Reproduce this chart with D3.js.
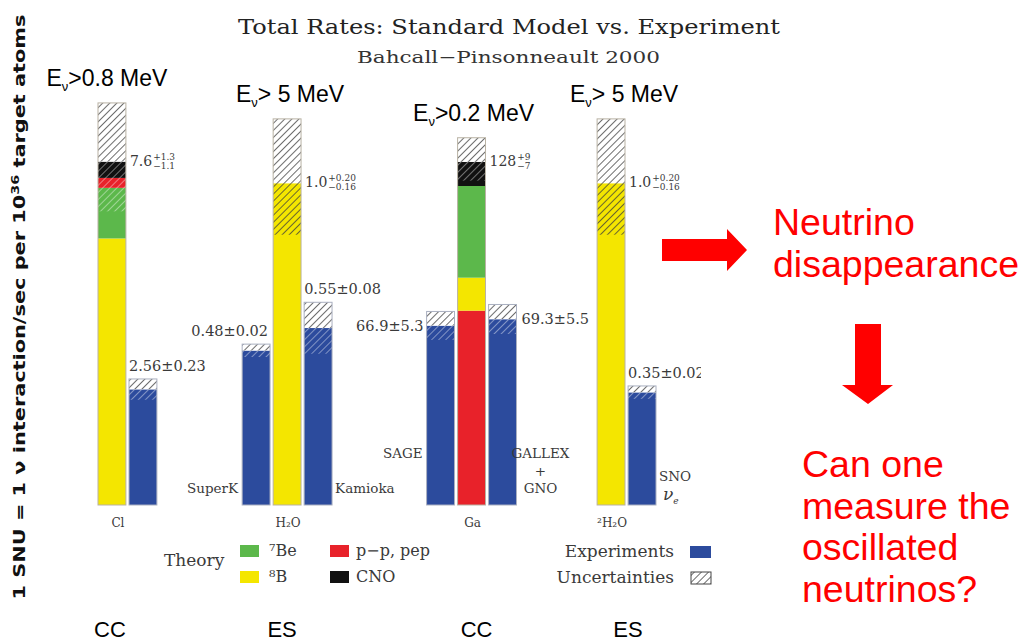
<!DOCTYPE html>
<html>
<head>
<meta charset="utf-8">
<script src="https://cdn.jsdelivr.net/npm/d3@7"></script>
<style>
  body { margin: 0; background: #fff; }
  svg { display: block; }
  .serif { font-family: "DejaVu Serif", serif; fill: #3a3a3a; }
  .sans { font-family: "Liberation Sans", Arial, sans-serif; }
</style>
</head>
<body>
<div id="chart"></div>
<script>
// groups (one per detector target)
const groups = ['Cl', 'H2O', 'Ga', '2H2O'];
const groupLabels = ['Cl', 'H₂O', 'Ga', '²H₂O'];
const reactionType = ['CC', 'ES', 'CC', 'ES'];
const thresholdLabel = ['>0.8 MeV', '> 5 MeV', '>0.2 MeV', '> 5 MeV'];
const groupDomainMax = [9.85, 1.383, 166.0, 1.383];
const groupBars = [2, 3, 3, 2];
const theorySlot = [0, 1, 1, 0];

// theory (BP2000), per group, by source
const theoryPP = [0.22, 0, 72.5, 0];
const theoryB8 = [5.9, 1.0, 12.3, 1.0];
const theoryBe7 = [1.12, 0, 34.2, 0];
const theoryCNO = [0.36, 0, 9.0, 0];
const stackOrder = [['B8', 'Be7', 'pp', 'CNO'], ['B8'], ['pp', 'B8', 'Be7', 'CNO'], ['B8']];
const theoryTotal = [7.6, 1.0, 128, 1.0];
const theoryErrUp = [1.3, 0.20, 9, 0.20];
const theoryErrDn = [1.1, 0.16, 7, 0.16];
const theoryText = ['7.6', '1.0', '128', '1.0'];
const theoryUpText = ['+1.3', '+0.20', '+9', '+0.20'];
const theoryDnText = ['−1.1', '−0.16', '−7', '−0.16'];

// experiments
const expGroup = [0, 1, 1, 2, 2, 3];
const expSlot = [1, 0, 2, 0, 2, 1];
const expValue = [2.56, 0.48, 0.55, 66.9, 69.3, 0.35];
const expErr = [0.23, 0.02, 0.08, 5.3, 5.5, 0.02];
const expText = ['2.56±0.23', '0.48±0.02', '0.55±0.08', '66.9±5.3', '69.3±5.5', '0.35±0.02'];
const expLabelAt = ['top', 'top', 'top', 'side', 'side', 'top'];
const expName = [[], ['SuperK'], ['Kamioka'], ['SAGE'], ['GALLEX', '+', 'GNO'], ['SNO', 'νe']];

// legend
const sourceKeys = ['Be7', 'B8', 'pp', 'CNO'];
const sourceLegend = ['⁷Be', '⁸B', 'p−p, pep', 'CNO'];

const colors = { B8: '#f4e600', Be7: '#5cb84b', pp: '#e8222a', CNO: '#111111', exp: '#2c4b9d' };
const theoryValues = { pp: theoryPP, B8: theoryB8, Be7: theoryBe7, CNO: theoryCNO };

const W = 1024, H = 641;
const baseY = 505;

// layout tweaks (slide text was placed by hand)
const groupGap = [2.65, 2.95, 2.5];
const thresholdNudge = [-5, 3, 2, 13];
const captionNudge = [-2, -5, 5, 17];

const svg = d3.select('#chart').append('svg')
  .attr('width', W).attr('height', H);

const defs = svg.append('defs');
function hatch(id, bg, line){
  const p = defs.append('pattern')
    .attr('id', id)
    .attr('patternUnits', 'userSpaceOnUse')
    .attr('width', 5).attr('height', 5)
    .attr('patternTransform', 'rotate(45)');
  if(bg) p.append('rect').attr('width', 5).attr('height', 5).attr('fill', bg);
  p.append('line')
    .attr('x1', 0).attr('y1', 0).attr('x2', 0).attr('y2', 5)
    .attr('stroke', line).attr('stroke-width', 1.5);
}
hatch('hatchDark', null, '#3c3c3c');
hatch('hatchLight', null, 'rgba(255,255,255,0.55)');
hatch('hatchLegend', '#fff', '#3c3c3c');

defs.append('clipPath').attr('id', 'figClip')
  .append('rect').attr('x', 0).attr('y', 0).attr('width', 701).attr('height', 545);

// x layout: slots of equal width, a gap between groups
const groupStart = [];
let acc = 0;
groupBars.forEach((n, i) => {
  groupStart.push(acc);
  acc += n + (i < groupGap.length ? groupGap[i] : 0);
});
const totalSlots = acc;
const x = d3.scaleLinear().domain([0, totalSlots]).range([98, 98 + totalSlots * 31]);
const barW = x(0.9) - x(0);

const yScales = groupDomainMax.map(m => d3.scaleLinear().domain([0, m]).range([baseY, 60]));

const fig = svg.append('g').attr('clip-path', 'url(#figClip)');

function rectV(sel, xl, y, lo, hi, fill){
  return sel.append('rect')
    .attr('x', xl).attr('width', barW)
    .attr('y', y(hi)).attr('height', y(lo) - y(hi))
    .attr('fill', fill);
}
function lightFor(c){ return (c === colors.B8) ? 'url(#hatchDark)' : 'url(#hatchLight)'; }

// theory bars
groups.forEach((g, i) => {
  const y = yScales[i];
  const xl = x(groupStart[i] + theorySlot[i]);
  const gb = fig.append('g').attr('class', 'theory');
  let a = 0;
  const segs = stackOrder[i].map(s => {
    const v = theoryValues[s][i];
    const seg = { s: s, lo: a, hi: a + v };
    a += v;
    return seg;
  });
  segs.forEach(sg => rectV(gb, xl, y, sg.lo, sg.hi, colors[sg.s]));

  const tot = theoryTotal[i];
  const hi = tot + theoryErrUp[i], lo = tot - theoryErrDn[i];
  rectV(gb, xl, y, tot, hi, '#fff');
  rectV(gb, xl, y, tot, hi, 'url(#hatchDark)');
  segs.forEach(sg => {
    const l = Math.max(sg.lo, lo), h = Math.min(sg.hi, tot);
    if(h > l) rectV(gb, xl, y, l, h, lightFor(colors[sg.s]));
  });
  rectV(gb, xl, y, 0, hi, 'none')
    .attr('stroke', '#b9b2a4').attr('stroke-width', 1);

  // value with errors
  const tx = xl + barW + 4, ty = y(tot) + 4;
  const t = gb.append('text').attr('class', 'serif')
    .attr('x', tx).attr('y', ty).style('font-size', '14px').text(theoryText[i]);
  const tw = t.node().getComputedTextLength();
  gb.append('text').attr('class', 'serif')
    .attr('x', tx + tw + 1).attr('y', ty - 6).style('font-size', '9px').text(theoryUpText[i]);
  gb.append('text').attr('class', 'serif')
    .attr('x', tx + tw + 1).attr('y', ty + 3).style('font-size', '9px').text(theoryDnText[i]);

  // group label under bars
  const cx = xl + barW / 2;
  fig.append('text').attr('class', 'serif')
    .attr('x', cx + (i === 0 ? 6 : 1)).attr('y', 527)
    .attr('text-anchor', 'middle').style('font-size', '12px')
    .text(groupLabels[i]);

  // threshold label
  const et = svg.append('text').attr('class', 'sans')
    .attr('x', cx + thresholdNudge[i]).attr('y', y(hi) - 17)
    .attr('text-anchor', 'middle').style('font-size', '23px').attr('fill', '#000');
  et.append('tspan').text('E');
  et.append('tspan').attr('dy', 5).style('font-size', '13px').text('ν');
  et.append('tspan').attr('dy', -5).text(thresholdLabel[i]);

  // reaction type at the bottom
  svg.append('text').attr('class', 'sans')
    .attr('x', cx + captionNudge[i]).attr('y', 637)
    .attr('text-anchor', 'middle').style('font-size', '22px').attr('fill', '#000')
    .text(reactionType[i]);
});

// experiment bars
expValue.forEach((v, k) => {
  const i = expGroup[k];
  const y = yScales[i];
  const xl = x(groupStart[i] + expSlot[k]);
  const e = expErr[k];
  const gb = fig.append('g').attr('class', 'experiment');
  rectV(gb, xl, y, 0, v, colors.exp);
  rectV(gb, xl, y, v, v + e, '#fff');
  rectV(gb, xl, y, v, v + e, 'url(#hatchDark)');
  rectV(gb, xl, y, v - e, v, 'url(#hatchLight)');
  rectV(gb, xl, y, 0, v + e, 'none')
    .attr('stroke', '#aab0c0').attr('stroke-width', 1);

  const left = expSlot[k] < theorySlot[i];
  const lab = gb.append('text').attr('class', 'serif').style('font-size', '14.5px');
  if(expLabelAt[k] === 'top'){
    lab.attr('x', left ? xl + barW - 2 : xl)
      .attr('y', y(v + e) - 8)
      .attr('text-anchor', left ? 'end' : 'start');
  }else{
    lab.attr('x', left ? xl - 3 : xl + barW + 5)
      .attr('y', y(v) + 5)
      .attr('text-anchor', left ? 'end' : 'start');
  }
  lab.text(expText[k]);

  // detector names
  const names = expName[k];
  if(names.length === 0) return;
  const multi = names.length === 3;
  names.forEach((n, j) => {
    let nx, anchor, ny;
    if(multi){ nx = xl + barW + 24; anchor = 'middle'; ny = 458 + j * 17.5; }
    else if(n === 'SAGE'){ nx = xl - 4; anchor = 'end'; ny = 458; }
    else if(n === 'SNO' || n === 'νe'){ nx = xl + barW + 3; anchor = 'start'; ny = 481 + j * 19; }
    else { nx = left ? xl - 4 : xl + barW + 3; anchor = left ? 'end' : 'start'; ny = 493; }
    const nt = gb.append('text').attr('class', 'serif')
      .attr('x', nx).attr('y', ny).attr('text-anchor', anchor)
      .style('font-size', '13.5px');
    if(n === 'νe'){
      nt.attr('x', nx + 4).style('font-style', 'italic').style('font-size', '17px');
      nt.append('tspan').text('ν');
      nt.append('tspan').attr('dy', 4).style('font-size', '9px').text('e');
    }else{
      nt.text(n);
    }
  });
});

// title
svg.append('text').attr('class', 'serif')
  .attr('x', 238).attr('y', 34)
  .attr('textLength', 542).attr('lengthAdjust', 'spacingAndGlyphs')
  .style('font-size', '20px').style('fill', '#222')
  .text('Total Rates: Standard Model vs. Experiment');
svg.append('text').attr('class', 'serif')
  .attr('x', 357).attr('y', 63)
  .attr('textLength', 303).attr('lengthAdjust', 'spacingAndGlyphs')
  .style('font-size', '17px').style('fill', '#333')
  .text('Bahcall−Pinsonneault 2000');

// y axis label
const yl = svg.append('text')
  .attr('transform', 'translate(25,' + 307 + ') rotate(-90)')
  .attr('text-anchor', 'middle')
  .attr('textLength', 585).attr('lengthAdjust', 'spacingAndGlyphs')
  .style('font-family', '"DejaVu Sans", sans-serif')
  .style('font-weight', 'bold').style('font-size', '16px').attr('fill', '#111');
yl.append('tspan').text('1 SNU = 1 ν interaction/sec per 10');
yl.append('tspan').attr('dy', -6).style('font-size', '11px').text('36');
yl.append('tspan').attr('dy', 6).text(' target atoms');

// legend
const leg = svg.append('g').attr('class', 'legend');
leg.append('text').attr('class', 'serif')
  .attr('x', 164).attr('y', 566).style('font-size', '17px').text('Theory');
sourceKeys.forEach((s, j) => {
  const col = Math.floor(j / 2), row = j % 2;
  const sx = 240 + col * 90, sy = 545 + row * 26;
  leg.append('rect').attr('x', sx).attr('y', sy).attr('width', 19).attr('height', 12)
    .attr('fill', colors[s]);
  leg.append('text').attr('class', 'serif')
    .attr('x', sx + 29 + (col ? -3 : 0)).attr('y', sy + 11)
    .style('font-size', '16px').text(sourceLegend[j]);
});
leg.append('text').attr('class', 'serif')
  .attr('x', 674).attr('y', 557).attr('text-anchor', 'end')
  .style('font-size', '17px').text('Experiments');
leg.append('rect').attr('x', 690).attr('y', 546).attr('width', 21).attr('height', 12)
  .attr('fill', colors.exp);
leg.append('text').attr('class', 'serif')
  .attr('x', 674).attr('y', 583).attr('text-anchor', 'end')
  .style('font-size', '17px').text('Uncertainties');
leg.append('rect').attr('x', 691).attr('y', 572).attr('width', 20).attr('height', 12)
  .attr('fill', 'url(#hatchLegend)').attr('stroke', '#444').attr('stroke-width', 1);

// annotations
const red = '#ff0000';
svg.append('path')
  .attr('d', 'M662,239 H727 V229 L747,250 L727,271 V261 H662 Z')
  .attr('fill', red);
svg.append('path')
  .attr('d', 'M855,324 H881 V385 H893 L868,404 L842,385 H855 Z')
  .attr('fill', red);

const notes = [
  { x: 773, y: 235, t: 'Neutrino' },
  { x: 773, y: 277, t: 'disappearance' },
  { x: 802, y: 477, t: 'Can one' },
  { x: 802, y: 519, t: 'measure the' },
  { x: 802, y: 560, t: 'oscillated' },
  { x: 802, y: 602, t: 'neutrinos?' }
];
svg.selectAll('.note').data(notes).enter().append('text')
  .attr('class', 'note sans')
  .attr('x', d => d.x).attr('y', d => d.y)
  .attr('fill', red).style('font-size', '37.5px')
  .text(d => d.t);
</script>
</body>
</html>
